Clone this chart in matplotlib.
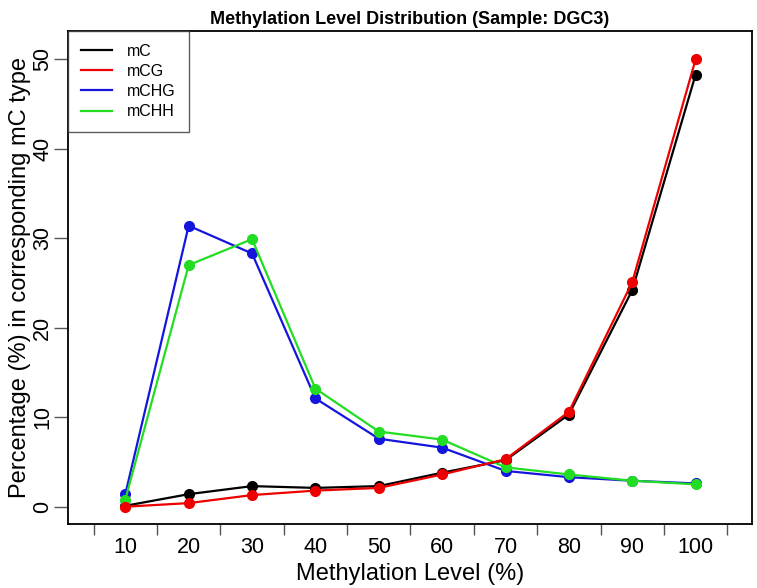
import matplotlib
matplotlib.use("Agg")
import matplotlib.pyplot as plt

plt.rcParams["font.family"] = ["Liberation Sans", "DejaVu Sans"]

# datos
niveles = [10, 20, 30, 40, 50, 60, 70, 80, 90, 100]
mC = [0.1, 1.4, 2.3, 2.1, 2.3, 3.8, 5.2, 10.3, 24.2, 48.3]
mCG = [0.0, 0.4, 1.3, 1.8, 2.1, 3.6, 5.3, 10.6, 25.1, 50.0]
mCHG = [1.4, 31.4, 28.3, 12.1, 7.6, 6.6, 4.0, 3.3, 2.9, 2.6]
mCHH = [0.8, 27.0, 29.9, 13.2, 8.4, 7.5, 4.4, 3.6, 2.9, 2.5]
yticks = [0, 10, 20, 30, 40, 50]
xticks_sep = [5, 15, 25, 35, 45, 55, 65, 75, 85, 95, 105]

fig = plt.figure(figsize=(7.57, 5.88), dpi=100)
ax = fig.add_axes([0.0902, 0.1083, 0.9028, 0.8389])

series = [("mC", mC, "black", 2), ("mCG", mCG, "#EE0000", 5),
          ("mCHG", mCHG, "#1515DD", 3), ("mCHH", mCHH, "#22DD22", 4)]
for nombre, vals, col, z in series:
    ax.plot(niveles, vals, "-o", color=col, lw=1.6, ms=7, label=nombre, zorder=z)

ax.set_xlim(1, 108.85)
ax.set_ylim(-1.97, 53.16)

# eje x: marcas entre etiquetas, etiquetas sin marca
ax.set_xticks(xticks_sep)
ax.set_xticklabels([])
ax.set_xticks(niveles, minor=True)
ax.set_xticklabels([str(n) for n in niveles], minor=True, fontsize=15.5)
ax.tick_params(axis="x", which="major", length=8, width=1, color="#555555", direction="out")
ax.tick_params(axis="x", which="minor", length=0, pad=9)

ax.set_yticks(yticks)
ax.set_yticklabels([str(v) for v in yticks], fontsize=15.5, rotation=90, va="center")
ax.tick_params(axis="y", length=10, width=1, color="#555555", pad=1)

for s in ax.spines.values():
    s.set_linewidth(1.3)

ax.set_xlabel("Methylation Level (%)", fontsize=17, labelpad=4)
ax.set_ylabel("Percentage (%) in corresponding mC type", fontsize=17, labelpad=1)
ax.set_title("Methylation Level Distribution (Sample: DGC3)", fontsize=13,
             fontweight="bold", pad=5)

leg = ax.legend(loc="upper left", bbox_to_anchor=(0, 1), fontsize=11.5,
                frameon=True, fancybox=False, borderaxespad=0,
                handlelength=1.95, handletextpad=0.95, labelspacing=0.32,
                borderpad=0.8)
leg.get_frame().set_edgecolor("#333333")
leg.get_frame().set_linewidth(1)
for h in leg.legend_handles:
    h.set_marker("")

fig.savefig("out.png", dpi=100)
